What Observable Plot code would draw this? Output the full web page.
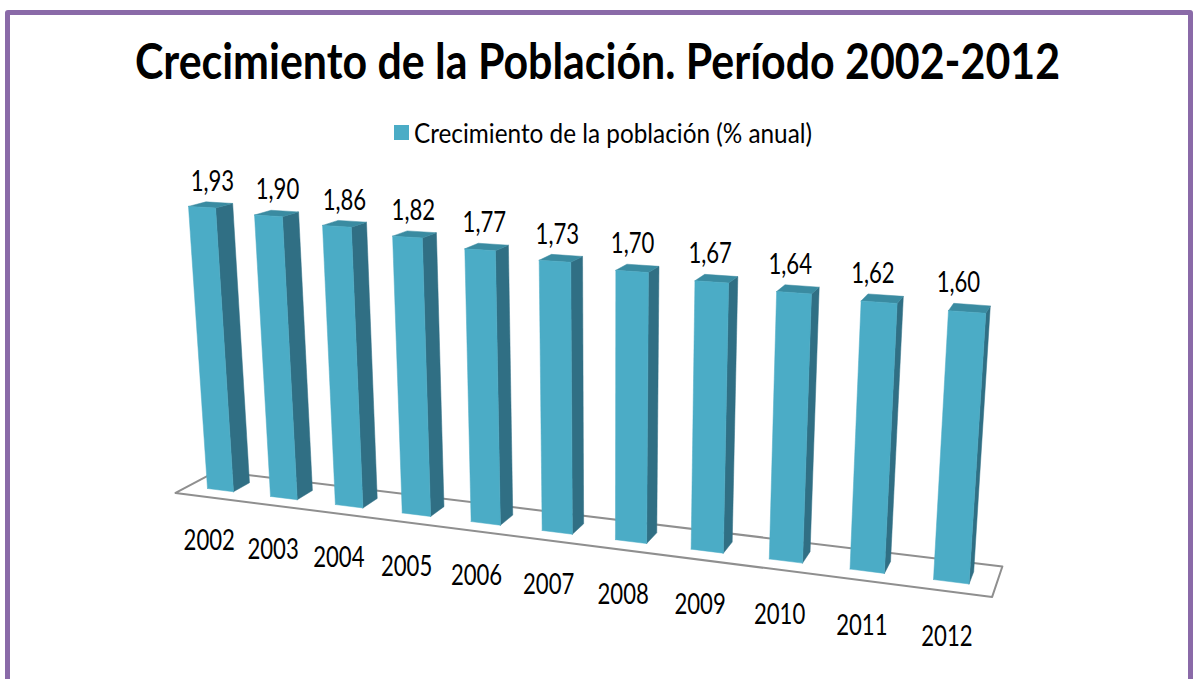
<!DOCTYPE html>
<html lang="es">
<head>
<meta charset="utf-8">
<script src="https://cdn.jsdelivr.net/npm/d3@7"></script>
<script src="https://cdn.jsdelivr.net/npm/@observablehq/plot@0.6"></script>
<style>
html,body{margin:0;padding:0;background:#fff;width:1199px;height:679px;overflow:hidden;font-family:Lato,"Open Sans",sans-serif;color:#000}
#frame{position:absolute;left:5px;top:10px;width:1178px;height:700px;border:5px solid #8a6aa8;border-radius:3px}
#title{position:absolute;left:135px;top:29px;font-size:50px;line-height:62px;font-weight:700;white-space:nowrap;transform-origin:0 50%}
#swatch{position:absolute;left:394px;top:125px;width:15px;height:15px;background:#4bacc6}
#legend{position:absolute;left:414px;top:117px;font-size:26px;line-height:32px;white-space:nowrap;transform-origin:0 50%}
#chart{position:absolute;left:0;top:150px}
</style>
</head>
<body>
<div id="frame"></div>
<div id="title">Crecimiento de la Población. Período 2002-2012</div>
<div id="swatch"></div>
<div id="legend">Crecimiento de la población (% anual)</div>
<div id="chart"></div>
<script>
const years = [2002, 2003, 2004, 2005, 2006, 2007, 2008, 2009, 2010, 2011, 2012];
const growth = [1.93, 1.90, 1.86, 1.82, 1.77, 1.73, 1.70, 1.67, 1.64, 1.62, 1.60];

// Perspective camera: slot u along the years, depth d, height h (the value in %)
const barWidth = 0.416;
function project(u, d, h) {
  const w = 1 - 0.01448 * u - 0.02347 * h + 0.0165 * d;
  return {
    x: (207 + 59.09 * u - 14.25 * h + 20 * d) / w,
    y: (488 + 0.72 * u - 151 * h - d) / w
  };
}
function polygon(id, corners) {
  return [...corners, corners[0]].map(([u, d, h]) => ({id, ...project(u, d, h)}));
}
const faces = (kind) => years.flatMap((year, i) => {
  const a = i, b = i + barWidth, v = growth[i];
  const corners = {
    side: [[b, 0, 0], [b, 1, 0], [b, 1, v], [b, 0, v]],
    top: [[a, 0, v], [b, 0, v], [b, 1, v], [a, 1, v]],
    front: [[a, 0, 0], [b, 0, 0], [b, 0, v], [a, 0, v]]
  }[kind];
  return polygon(year, corners);
});
const floor = polygon("floor", [[-0.31, -0.75, 0], [10.72, -0.75, 0], [10.72, 1.7, 0], [-0.31, 1.7, 0]]);

const valueLabels = years.map((year, i) => ({
  text: growth[i].toFixed(2).replace(".", ","),
  ...project(i + 0.257 - 0.019 * i, 0.5, growth[i] + 0.15 - 0.0012 * i)
}));
const yearLabels = years.map((year, i) => ({
  text: String(year),
  ...project(i - 0.03 + 0.0225 * i, 0, -0.385 + 0.004 * i)
}));

const face = (kind, color) => Plot.line(faces(kind), {
  x: "x", y: "y", z: "id", fill: color, stroke: color, strokeWidth: 0.5, curve: "linear"
});

const plot = Plot.plot({
  width: 1199,
  height: 529,
  margin: 0,
  x: {domain: [0, 1199], range: [0, 1199], axis: null},
  y: {domain: [150, 679], range: [0, 529], axis: null},
  style: {background: "transparent", overflow: "visible", fontFamily: "Lato"},
  marks: [
    Plot.line(floor, {x: "x", y: "y", z: "id", stroke: "#8f8f8f", strokeWidth: 2, curve: "linear"}),
    face("side", "#306f84"),
    face("top", "#3a8ba1"),
    face("front", "#4bacc6"),
    Plot.text(valueLabels, {x: "x", y: "y", text: "text", fontSize: 28, fill: "#000"}),
    Plot.text(yearLabels, {x: "x", y: "y", text: "text", fontSize: 28, fill: "#000"})
  ]
});
document.getElementById("chart").append(plot);

// The reference's type is condensed: squeeze the glyphs horizontally around their anchors
plot.querySelectorAll("text").forEach((t) => {
  t.setAttribute("transform", `${t.getAttribute("transform") || ""} scale(0.79,1)`);
});
function fit(id, width) {
  const el = document.getElementById(id);
  el.style.transform = `scaleX(${width / el.getBoundingClientRect().width})`;
}
fit("title", 925);
fit("legend", 398);
</script>
</body>
</html>
